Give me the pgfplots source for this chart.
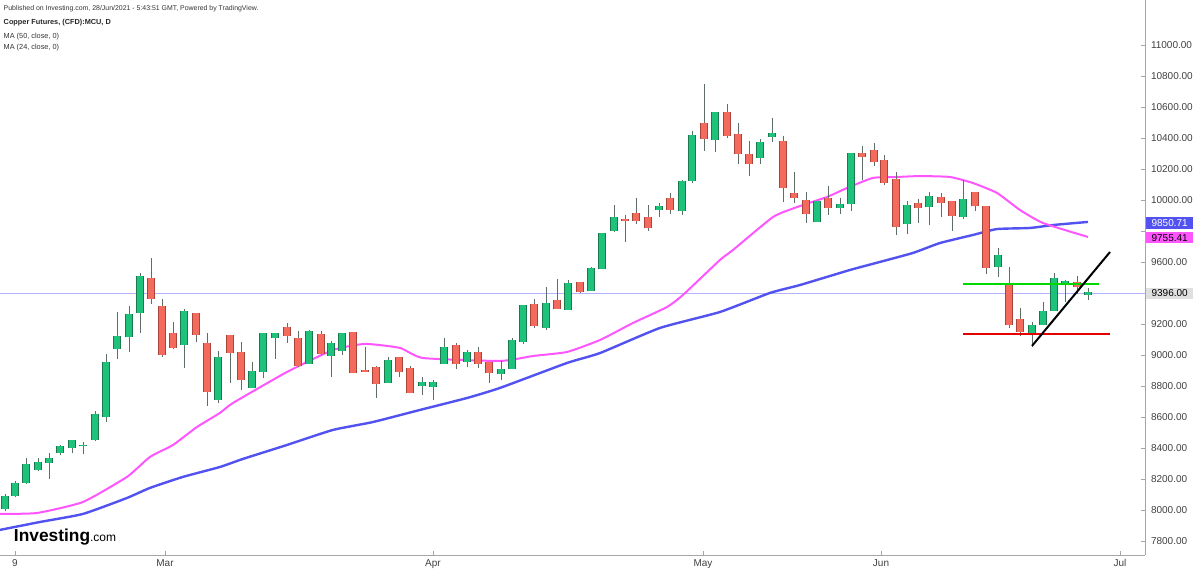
\documentclass[border=0pt]{standalone}
\usepackage{pgfplots}
\usepackage{pgfplotstable}
\pgfplotsset{compat=1.18}
\usepackage{fontspec}
\setmainfont{Liberation Sans}
\definecolor{up}{HTML}{1FC27A}
\definecolor{upb}{HTML}{1A7A4E}
\definecolor{dn}{HTML}{F46B5D}
\definecolor{dnb}{HTML}{A8443A}
\definecolor{wick}{HTML}{5E6E66}
\definecolor{mapink}{HTML}{FF55FF}
\definecolor{mablue}{HTML}{5252F0}
\pgfplotstableread{
x O H L C
5 8006 8100 7990 8083
15 8090 8187 8083 8167
26 8174 8335 8167 8290
38 8258 8335 8252 8303
49 8303 8367 8200 8329
60 8367 8419 8355 8406
72 8400 8451 8367 8445
83 8410 8438 8360 8415
95 8451 8638 8445 8612
106 8600 9006 8567 8948
117 9038 9277 8974 9116
129 9116 9316 9019 9258
140 9271 9529 9142 9503
184 9064 9296 8916 9277
218 8709 9025 8690 8980
252 8787 8954 8787 8890
263 8890 9142 8851 9135
275 9109 9142 8974 9135
309 8941 9161 8941 9148
331 8993 9090 8858 9071
342 9025 9135 9000 9135
388 8819 8987 8819 8961
422 8800 8858 8741 8819
433 8793 8838 8709 8819
444 8941 9109 8941 9045
467 8954 9032 8922 9012
501 8877 8961 8838 8903
512 8909 9109 8909 9090
523 9083 9316 9071 9316
546 9174 9438 9161 9329
568 9290 9484 9290 9458
591 9412 9567 9412 9554
602 9554 9787 9554 9780
614 9800 9967 9793 9883
659 9935 9980 9890 9954
682 9929 10129 9903 10116
692 10122 10445 10109 10413
715 10387 10568 10310 10561
760 10271 10393 10232 10367
772 10406 10529 10374 10425
817 9858 9987 9858 9987
840 9948 10013 9909 9967
851 9974 10303 9929 10296
907 9845 9993 9780 9961
929 9954 10051 9838 10019
963 9890 10129 9877 10000
998 9567 9690 9503 9638
1032 9142 9213 9051 9187
1043 9193 9342 9193 9277
1054 9283 9529 9283 9490
1065 9464 9484 9342 9471
1088 9387 9432 9355 9400
}\greentab
\pgfplotstableread{
x O H L C
151 9490 9625 9329 9361
162 9309 9361 8987 9000
173 9135 9213 9038 9045
196 9264 9264 9083 9129
207 9071 9142 8670 8761
230 9122 9122 8819 9012
241 9012 9083 8774 8838
287 9174 9206 9077 9122
298 9103 9155 8922 8929
321 9129 9155 9000 9006
353 9142 9148 8883 8883
365 8896 9051 8890 8890
376 8916 8929 8722 8812
399 8980 8987 8858 8890
410 8909 8929 8754 8754
456 9058 9077 8909 8941
478 9012 9051 8916 8941
489 8948 8948 8819 8883
534 9322 9361 9174 9187
557 9348 9490 9296 9296
580 9464 9471 9400 9406
625 9871 9903 9729 9864
636 9909 10013 9845 9864
648 9883 9967 9800 9819
670 10006 10045 9909 9935
704 10490 10748 10316 10393
727 10561 10619 10400 10413
738 10419 10496 10232 10296
749 10290 10380 10154 10232
783 10374 10413 9987 10077
794 10038 10180 9980 10013
806 9993 10051 9851 9909
828 10006 10090 9903 9948
862 10296 10348 10129 10277
874 10316 10367 10219 10245
884 10251 10290 10096 10109
896 10129 10180 9774 9825
918 9974 10006 9851 9948
941 10013 10045 9890 9980
952 9987 9987 9800 9896
975 10045 10051 9929 9961
986 9954 9961 9522 9561
1009 9451 9567 9174 9193
1020 9225 9303 9122 9148
1077 9464 9509 9393 9438
}\redtab
\begin{document}
\begin{tikzpicture}
\begin{axis}[
  scale only axis, width=858.75pt, height=416.25pt,
  xmin=0, xmax=1145, ymin=7709, ymax=11290,
  axis x line*=bottom, axis y line*=right,
  axis line style={draw=black!35, line width=0.5pt},
  xtick={15,165,433,703,881,1120},
  xticklabels={9,Mar,Apr,May,Jun,Jul},
  ytick={7800,8000,8200,8400,8600,8800,9000,9200,9600,10000,10200,10400,10600,10800,11000},
  extra y ticks={9400,9800}, extra y tick labels={},
  scaled y ticks=false,
  major tick length=3pt,
  tick style={draw=black!35},
  x tick label style={font=\fontsize{7.5}{8}\selectfont, text=black!75},
  y tick label style={font=\fontsize{7.5}{8}\selectfont, text=black!75, anchor=west, xshift=1pt},
  /pgf/number format/fixed, /pgf/number format/fixed zerofill, /pgf/number format/precision=2, /pgf/number format/1000 sep={}, /pgf/number format/assume math mode=true,
  clip=false,
  candle/.style={draw=none, mark=none, forget plot, error bars/.cd, y dir=plus, y explicit, error mark=none},
]
\addplot[color=blue!30, line width=0.5pt, forget plot] coordinates {(0,9396) (1145,9396)};
\addplot[mablue, line width=1.8pt, smooth, tension=0.3] coordinates {
(0,7871)(40,7922)(83,7974)(127,8077)(150,8142)(183,8213)(220,8277)(243,8329)(287,8419)(333,8516)(373,8567)(420,8645)(467,8722)(500,8787)(567,8948)(600,9012)(660,9174)(720,9277)(770,9400)(800,9451)(850,9548)(880,9600)(913,9658)(940,9722)(973,9774)(997,9812)(1030,9819)(1053,9838)(1088,9858)};
\addplot[mapink, line width=1.5pt, smooth, tension=0.3] coordinates {
(0,7974)(37,7980)(83,8051)(127,8213)(150,8342)(173,8419)(197,8535)(220,8626)(233,8690)(287,8890)(333,9032)(365,9071)(400,9045)(423,8980)(500,8961)(533,8993)(567,9019)(600,9096)(633,9206)(667,9309)(683,9387)(720,9613)(733,9677)(773,9890)(797,9954)(827,10019)(847,10077)(873,10142)(897,10148)(920,10154)(950,10148)(973,10109)(997,10045)(1020,9935)(1043,9851)(1088,9761)};
% wicks
\addplot[candle, error bar style={draw=wick, line width=0.75pt}]
  table[x=x, y=L, y error plus expr=\thisrow{H}-\thisrow{L}] {\greentab};
\addplot[candle, error bar style={draw=wick, line width=0.75pt}]
  table[x=x, y=L, y error plus expr=\thisrow{H}-\thisrow{L}] {\redtab};
% bodies
\addplot[candle, error bar style={draw=upb, line width=6.2pt, line cap=butt}]
  table[x=x, y=O, y error plus expr=\thisrow{C}-\thisrow{O}+4] {\greentab};
\addplot[candle, error bar style={draw=up, line width=4.9pt, line cap=butt}]
  table[x=x, y=O, y error plus expr=\thisrow{C}-\thisrow{O}+4] {\greentab};
\addplot[candle, error bar style={draw=dnb, line width=6.2pt, line cap=butt}]
  table[x=x, y=C, y error plus expr=\thisrow{O}-\thisrow{C}+4] {\redtab};
\addplot[candle, error bar style={draw=dn, line width=4.9pt, line cap=butt}]
  table[x=x, y=C, y error plus expr=\thisrow{O}-\thisrow{C}+4] {\redtab};
% drawn lines
\addplot[color=green!85!black, line width=1.5pt] coordinates {(963,9458) (1099,9458)};
\addplot[color=red!90!black, line width=1.5pt] coordinates {(963,9135) (1110,9135)};
\addplot[color=black, line width=1.5pt] coordinates {(1032,9058) (1110,9664)};
% price tags
\node[fill=mablue, text=white, font=\fontsize{7.5}{8}\selectfont, anchor=west, inner xsep=4pt, inner ysep=1.5pt] at (axis cs:1146,9851) {9850.71};
\node[fill=mapink, text=black, font=\fontsize{7.5}{8}\selectfont, anchor=west, inner xsep=4pt, inner ysep=1.5pt] at (axis cs:1146,9755) {9755.41};
\node[fill=black!12, text=black, font=\fontsize{7.5}{8}\selectfont, anchor=west, inner xsep=4pt, inner ysep=1.5pt] at (axis cs:1146,9396) {9396.00};
% header
\node[anchor=north west, font=\fontsize{5.2}{6}\selectfont, text=black!80, inner sep=0pt] at (rel axis cs:0.003,0.99) {Published on Investing.com, 28/Jun/2021 - 5:43:51 GMT, Powered by TradingView.};
\node[anchor=north west, font=\bfseries\fontsize{5.5}{6}\selectfont, text=black!85, inner sep=0pt] at (rel axis cs:0.003,0.966) {Copper Futures, (CFD):MCU, D};
\node[anchor=north west, font=\fontsize{5.5}{6}\selectfont, text=black!80, inner sep=0pt] at (rel axis cs:0.003,0.94) {MA (50, close, 0)};
\node[anchor=north west, font=\fontsize{5.5}{6}\selectfont, text=black!80, inner sep=0pt] at (rel axis cs:0.003,0.92) {MA (24, close, 0)};
\node[anchor=south west, inner sep=0pt] at (rel axis cs:0.012,0.018) {\fontsize{13}{14}\selectfont\bfseries Investing\fontsize{9}{10}\selectfont\mdseries .com};
\coordinate (bbA) at (rel axis cs:0,-0.036036);
\coordinate (bbB) at (rel axis cs:1.048035,1);
\end{axis}
\pgfresetboundingbox
\useasboundingbox (bbA) rectangle (bbB);
\end{tikzpicture}
\end{document}
